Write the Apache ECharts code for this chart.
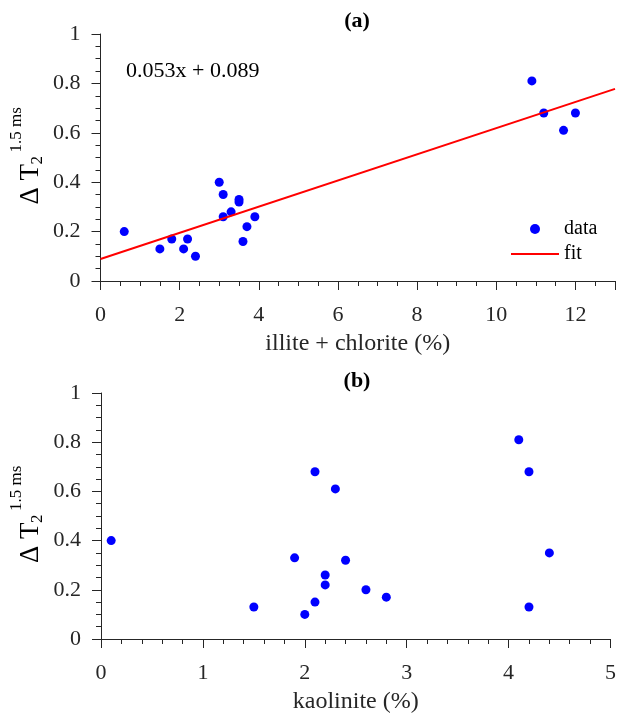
<!DOCTYPE html>
<html>
<head>
<meta charset="utf-8">
<script src="https://cdn.jsdelivr.net/npm/echarts@6/dist/echarts.min.js"></script>
<style>
html,body{margin:0;padding:0;background:#fff;}
#chart{width:619px;height:715px;}
</style>
</head>
<body>
<div id="chart"></div>
<script>
// ---- data ----
var illiteChlorite = [0.6, 1.5, 1.8, 2.1, 2.2, 2.4, 3.0, 3.1, 3.1, 3.3, 3.5, 3.5, 3.7, 3.6, 3.9, 10.9, 11.2, 12.0, 11.7];
var deltaT2a =       [0.20, 0.13, 0.17, 0.13, 0.17, 0.10, 0.40, 0.35, 0.26, 0.28, 0.33, 0.32, 0.22, 0.16, 0.26, 0.81, 0.68, 0.68, 0.61];
var fitX = [0, 13];
var fitY = [0.089, 0.778];
var kaolinite = [0.1, 1.5, 1.9, 2.0, 2.1, 2.1, 2.2, 2.2, 2.3, 2.4, 2.6, 2.8, 4.1, 4.2, 4.2, 4.4];
var deltaT2b =  [0.40, 0.13, 0.33, 0.10, 0.15, 0.68, 0.26, 0.22, 0.61, 0.32, 0.20, 0.17, 0.81, 0.68, 0.13, 0.35];
var equationText = '0.053x + 0.089';
var titleA = '(a)', titleB = '(b)';
var xNameA = 'illite + chlorite (%)', xNameB = 'kaolinite (%)';

var FONT = 'Liberation Serif';
var AX = '#262626';

function pairs(xs, ys){ return xs.map(function(x,i){ return [x, ys[i]]; }); }

function xAxisCfg(gridIndex, max, interval, minorSplit, name){
  return {
    type:'value', gridIndex:gridIndex, min:0, max:max, interval:interval,
    name:name, nameLocation:'middle', nameGap:51,
    nameTextStyle:{fontFamily:FONT, fontSize:24, color:AX},
    axisLine:{show:true, onZero:false, lineStyle:{color:AX, width:1}},
    axisTick:{show:true, length:9, lineStyle:{color:AX}},
    minorTick:{show:true, splitNumber:minorSplit, length:5, lineStyle:{color:AX}},
    axisLabel:{fontFamily:FONT, fontSize:22, color:AX, margin:23, showMaxLabel: max===13 ? false : true},
    splitLine:{show:false}
  };
}
function yAxisCfg(gridIndex){
  return {
    type:'value', gridIndex:gridIndex, min:0, max:1, interval:0.2,
    axisLine:{show:true, onZero:false, lineStyle:{color:AX, width:1}},
    axisTick:{show:true, length:9, lineStyle:{color:AX}},
    minorTick:{show:true, splitNumber:4, length:5, lineStyle:{color:AX}},
    axisLabel:{fontFamily:FONT, fontSize:22, color:AX, margin:20},
    splitLine:{show:false}
  };
}

function yLabel(base){
  return [
    {type:'text', x:31, y:base, rotation:Math.PI/2,
      style:{text:'Δ T', font:'27px "Liberation Serif"', fill:'#000', align:'left', verticalAlign:'middle'}},
    {type:'text', x:38, y:base-40, rotation:Math.PI/2,
      style:{text:'2', font:'17px "Liberation Serif"', fill:'#000', align:'left', verticalAlign:'middle'}},
    {type:'text', x:17, y:base-52, rotation:Math.PI/2,
      style:{text:'1.5 ms', font:'17px "Liberation Serif"', fill:'#000', align:'left', verticalAlign:'middle'}}
  ];
}

var chart = echarts.init(document.getElementById('chart'), null, {renderer:'canvas'});
var graphics = [
  {type:'text', x:357, y:21, style:{text:titleA, font:'bold 22px "Liberation Serif"', fill:'#000', align:'center', verticalAlign:'middle'}},
  {type:'text', x:357, y:381, style:{text:titleB, font:'bold 22px "Liberation Serif"', fill:'#000', align:'center', verticalAlign:'middle'}},
  {type:'text', x:126, y:71, style:{text:equationText, font:'22px "Liberation Serif"', fill:'#000', align:'left', verticalAlign:'middle'}}
].concat(yLabel(563 - 358.5)).concat(yLabel(563));

chart.setOption({
  animation:false,
  backgroundColor:'#fff',
  grid:[
    {left:100.5, top:34, width:514.5, height:247, containLabel:false},
    {left:101, top:393, width:514, height:246, containLabel:false}
  ],
  xAxis:[ xAxisCfg(0, 13, 2, 4, xNameA), xAxisCfg(1, 5, 1, 5, xNameB) ],
  yAxis:[ yAxisCfg(0), yAxisCfg(1) ],
  legend:{
    data:[
      {name:'data', icon:'circle'},
      {name:'fit', icon:'path://M0,0 L48,0 L48,2 L0,2 Z'}
    ],
    orient:'vertical', left:506, top:214,
    itemWidth:48, itemHeight:10, itemGap:5,
    textStyle:{fontFamily:FONT, fontSize:20, color:'#000', lineHeight:20}
  },
  graphic:graphics,
  series:[
    {name:'data', type:'scatter', xAxisIndex:0, yAxisIndex:0, data:pairs(illiteChlorite, deltaT2a),
      symbol:'circle', symbolSize:9, itemStyle:{color:'#0000ff', opacity:1}},
    {name:'fit', type:'line', xAxisIndex:0, yAxisIndex:0, data:pairs(fitX, fitY),
      symbol:'none', showSymbol:false, lineStyle:{color:'#ff0000', width:2}, itemStyle:{color:'#ff0000'}},
    {name:'data2', type:'scatter', xAxisIndex:1, yAxisIndex:1, data:pairs(kaolinite, deltaT2b),
      symbol:'circle', symbolSize:9, itemStyle:{color:'#0000ff', opacity:1}}
  ]
});
</script>
</body>
</html>
